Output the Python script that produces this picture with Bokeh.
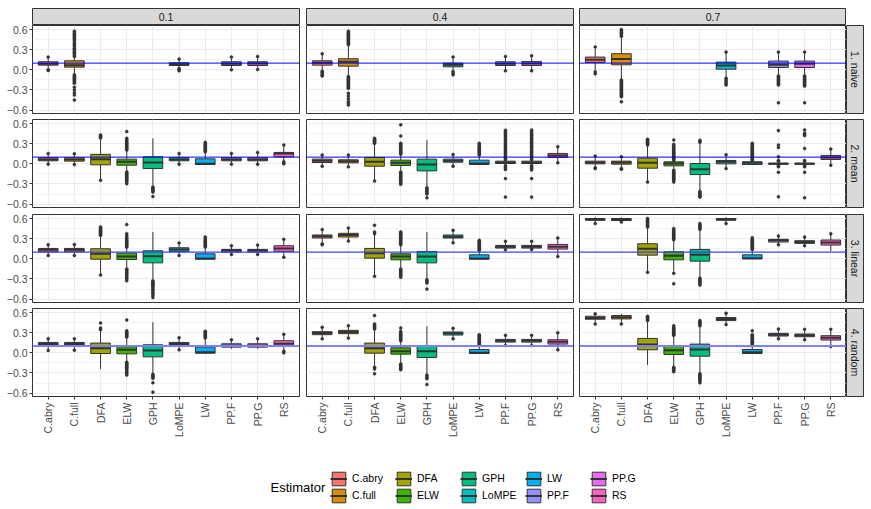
import math
from bokeh.plotting import figure
from bokeh.models import (ColumnDataSource, Range1d, FixedTicker, LinearAxis, Span,
                          Label, Legend, LegendItem, Spacer)
from bokeh.layouts import row, column
from bokeh.transform import dodge
from bokeh.embed import file_html
from bokeh.resources import INLINE

# ---------------- data ----------------
ESTIMATORS = ["C.abry", "C.full", "DFA", "ELW", "GPH", "LoMPE", "LW", "PP.F", "PP.G", "RS"]
COLORS = ["#F8766D", "#D89000", "#A3A500", "#39B600", "#00BF7D",
          "#00BFC4", "#00B0F6", "#9590FF", "#E76BF3", "#FF62BC"]
METHODS = ["1. naive", "2. mean", "3. linear", "4. random"]
PROPORTIONS = ["0.1", "0.4", "0.7"]
TRUE_VALUE = 0.1
Y_TICKS = [-0.6, -0.3, 0.0, 0.3, 0.6]
Y_MINOR = [-0.45, -0.15, 0.15, 0.45]
Y_LABELS = ["\u22120.6", "\u22120.3", "0.0", "0.3", "0.6"]

N = None
# each stat list: one row per proportion (0.1, 0.4, 0.7), one entry per estimator

# ---- 1. naive ----
naive_lo = [
    [0.02, -0.06, N, N, N, 0.03, N, 0.03, 0.03, N],
    [0.0, -0.09, N, N, N, 0.0, N, 0.0, 0.0, N],
    [0.0, -0.14, N, N, N, -0.11, N, -0.075, -0.075, N],
]
naive_q1 = [
    [0.07, 0.04, N, N, N, 0.065, N, 0.065, 0.065, N],
    [0.07, 0.055, N, N, N, 0.045, N, 0.065, 0.065, N],
    [0.11, 0.075, N, N, N, 0.01, N, 0.035, 0.035, N],
]
naive_med = [
    [0.09, 0.07, N, N, N, 0.08, N, 0.09, 0.095, N],
    [0.105, 0.12, N, N, N, 0.075, N, 0.09, 0.095, N],
    [0.15, 0.16, N, N, N, 0.065, N, 0.075, 0.09, N],
]
naive_q3 = [
    [0.12, 0.135, N, N, N, 0.105, N, 0.12, 0.12, N],
    [0.135, 0.165, N, N, N, 0.1, N, 0.12, 0.125, N],
    [0.19, 0.24, N, N, N, 0.115, N, 0.13, 0.13, N],
]
naive_hi = [
    [0.17, 0.19, N, N, N, 0.14, N, 0.17, 0.18, N],
    [0.23, 0.36, N, N, N, 0.16, N, 0.18, 0.19, N],
    [0.31, 0.48, N, N, N, 0.25, N, 0.25, 0.25, N],
]
naive_out = [
    [[0.19, 0.0, -0.01],
     [0.2, 0.22, 0.24, 0.26, 0.28, 0.3, 0.32, 0.35, 0.38, 0.4, 0.43, 0.45, 0.47, 0.49, 0.51,
      0.53, 0.55, 0.575, -0.075, -0.09, -0.105, -0.12, -0.135, -0.15, -0.165, -0.18, -0.2,
      -0.26, -0.3, -0.34, -0.375, -0.45],
     [], [], [], [0.16, 0.02, 0.0, -0.015], [], [0.19, 0.0], [0.2, 0.005], []],
    [[0.24, -0.02, -0.04, -0.06, -0.08, -0.09],
     [0.375, 0.39, 0.405, 0.42, 0.435, 0.45, 0.465, 0.48, 0.495, 0.51, 0.525, 0.54, 0.555,
      0.575, -0.1, -0.115, -0.13, -0.145, -0.16, -0.175, -0.19, -0.205, -0.22, -0.235, -0.25,
      -0.265, -0.275, -0.35, -0.39, -0.43, -0.47, -0.5, -0.525],
     [], [], [], [0.19, -0.025, -0.05, -0.075], [], [0.2, -0.015], [0.21, -0.015], []],
    [[0.34, -0.03, -0.06],
     [0.5, 0.52, 0.54, 0.56, 0.58, 0.6, -0.15, -0.165, -0.18, -0.195, -0.21, -0.225, -0.24,
      -0.255, -0.27, -0.285, -0.3, -0.315, -0.33, -0.345, -0.36, -0.375, -0.39, -0.4, -0.475],
     [], [], [], [0.265, -0.125, -0.15, -0.175, -0.2, -0.225], [],
     [0.265, -0.09, -0.105, -0.12, -0.135, -0.15, -0.165, -0.18, -0.195, -0.21, -0.225, -0.49],
     [0.265, -0.09, -0.105, -0.12, -0.135, -0.15, -0.165, -0.18, -0.195, -0.21, -0.225,
      -0.24, -0.49],
     []],
]

# ---- 2. mean ----
mean_lo = [
    [0.01, 0.01, -0.23, -0.1, -0.32, 0.01, -0.01, 0.01, 0.01, 0.04],
    [-0.02, -0.025, -0.24, -0.1, -0.34, -0.02, -0.01, -0.015, -0.015, 0.02],
    [-0.05, -0.055, -0.255, -0.08, -0.39, -0.05, -0.015, -0.02, -0.02, 0.0],
]
mean_q1 = [
    [0.045, 0.04, -0.015, -0.02, -0.07, 0.045, -0.01, 0.045, 0.045, 0.105],
    [0.02, 0.015, -0.035, -0.025, -0.105, 0.025, -0.01, 0.005, 0.005, 0.095],
    [0.0, -0.005, -0.065, -0.03, -0.16, 0.0, -0.01, -0.005, -0.005, 0.065],
]
mean_med = [
    [0.065, 0.065, 0.07, 0.03, 0.02, 0.065, 0.0, 0.065, 0.065, 0.155],
    [0.045, 0.04, 0.03, 0.015, -0.01, 0.045, 0.005, 0.02, 0.02, 0.125],
    [0.02, 0.02, 0.015, 0.005, -0.08, 0.03, 0.015, 0.0, 0.0, 0.095],
]
mean_q3 = [
    [0.09, 0.09, 0.14, 0.07, 0.105, 0.09, 0.075, 0.09, 0.09, 0.17],
    [0.07, 0.06, 0.095, 0.055, 0.07, 0.07, 0.055, 0.04, 0.04, 0.155],
    [0.04, 0.04, 0.085, 0.03, 0.005, 0.05, 0.03, 0.01, 0.01, 0.125],
]
mean_hi = [
    [0.13, 0.13, 0.36, 0.19, 0.38, 0.13, 0.17, 0.13, 0.145, 0.26],
    [0.11, 0.11, 0.3, 0.13, 0.355, 0.12, 0.12, 0.05, 0.05, 0.24],
    [0.09, 0.09, 0.27, 0.045, 0.3, 0.11, 0.045, 0.03, 0.03, 0.2],
]
mean_out = [
    [[0.155, -0.005], [0.15, -0.01], [0.385, 0.4, 0.415, 0.43, -0.245],
     [0.205, 0.22, 0.235, 0.25, 0.265, 0.28, 0.295, 0.31, 0.325, 0.34, 0.36, 0.38, 0.48,
      -0.12, -0.135, -0.15, -0.165, -0.18, -0.195, -0.21, -0.225, -0.24, -0.255, -0.27, -0.295],
     [-0.345, -0.36, -0.375, -0.39, -0.405, -0.42, -0.485],
     [0.155, -0.005],
     [0.18, 0.195, 0.21, 0.225, 0.24, 0.255, 0.27, 0.285, 0.3, 0.32],
     [0.155, -0.005], [0.17, -0.005], [0.28, 0.03, 0.015, 0.0]],
    [[0.13, -0.035], [0.13, -0.045], [0.305, 0.32, 0.335, 0.35, 0.365, 0.38, -0.255],
     [0.145, 0.16, 0.175, 0.19, 0.205, 0.22, 0.235, 0.25, 0.265, 0.28, 0.295, 0.305, 0.415,
      0.58, -0.12, -0.135, -0.15, -0.165, -0.18, -0.195, -0.21, -0.225, -0.24, -0.255, -0.27,
      -0.285, -0.305],
     [-0.355, -0.37, -0.385, -0.4, -0.415, -0.43, -0.45, -0.505],
     [0.14, -0.035],
     [0.13, 0.145, 0.16, 0.175, 0.19, 0.205, 0.22, 0.235, 0.25, 0.265, 0.28, 0.305],
     [0.06, 0.08, 0.1, 0.12, 0.14, 0.16, 0.18, 0.2, 0.22, 0.24, 0.26, 0.28, 0.3, 0.32, 0.34,
      0.36, 0.38, 0.4, 0.42, 0.44, 0.46, 0.48, 0.5, -0.025, -0.045, -0.065, -0.085, -0.22,
      -0.495],
     [0.06, 0.08, 0.1, 0.12, 0.14, 0.16, 0.18, 0.2, 0.22, 0.24, 0.26, 0.28, 0.3, 0.32, 0.34,
      0.36, 0.38, 0.4, 0.42, 0.44, 0.46, 0.48, 0.505, -0.025, -0.045, -0.065, -0.09, -0.22,
      -0.495],
     [0.255, 0.015]],
    [[0.115, -0.06, -0.07], [0.105, -0.07, -0.08],
     [0.28, 0.295, 0.31, 0.325, 0.34, 0.355, 0.365, -0.27],
     [0.055, 0.07, 0.085, 0.1, 0.115, 0.13, 0.145, 0.16, 0.175, 0.19, 0.205, 0.22, 0.235,
      0.25, 0.265, 0.29, 0.355, -0.095, -0.11, -0.125, -0.14, -0.155, -0.17, -0.185, -0.2,
      -0.215, -0.23, -0.245, -0.27],
     [0.32, 0.335, 0.35, -0.41, -0.425, -0.44, -0.455, -0.47, -0.485, -0.495],
     [0.135, -0.07],
     [0.055, 0.07, 0.085, 0.1, 0.115, 0.13, 0.145, 0.16, 0.175, 0.19, 0.205, 0.22, 0.235,
      0.25, 0.265, 0.28, 0.305],
     [0.495, 0.28, 0.245, 0.105, 0.05, 0.04, -0.03, -0.045, -0.125, -0.49],
     [0.505, 0.455, 0.435, 0.42, 0.23, 0.05, 0.04, -0.03, -0.045, -0.125, -0.505],
     [0.22, -0.02]],
]

# ---- 3. linear ----
linear_lo = [
    [0.07, 0.07, -0.22, -0.13, -0.3, 0.07, -0.005, 0.07, 0.07, 0.04],
    [0.25, 0.28, -0.24, -0.13, -0.3, 0.26, -0.005, 0.14, 0.145, 0.06],
    [0.54, 0.555, -0.19, -0.19, -0.28, 0.54, -0.005, 0.22, 0.205, 0.115],
]
linear_q1 = [
    [0.105, 0.105, -0.005, -0.01, -0.06, 0.11, -0.005, 0.1, 0.1, 0.11],
    [0.31, 0.325, 0.01, -0.015, -0.06, 0.31, -0.005, 0.16, 0.16, 0.145],
    [0.575, 0.57, 0.055, -0.015, -0.035, 0.575, 0.0, 0.25, 0.23, 0.205],
]
linear_med = [
    [0.135, 0.135, 0.075, 0.035, 0.04, 0.14, 0.005, 0.125, 0.125, 0.155],
    [0.335, 0.355, 0.085, 0.035, 0.035, 0.33, 0.005, 0.18, 0.18, 0.18],
    [0.585, 0.585, 0.15, 0.045, 0.06, 0.59, 0.01, 0.275, 0.25, 0.245],
]
linear_q3 = [
    [0.155, 0.155, 0.15, 0.085, 0.12, 0.165, 0.075, 0.14, 0.14, 0.195],
    [0.355, 0.38, 0.155, 0.075, 0.11, 0.355, 0.06, 0.2, 0.2, 0.215],
    [0.6, 0.6, 0.225, 0.105, 0.14, 0.6, 0.06, 0.29, 0.27, 0.28],
]
linear_hi = [
    [0.19, 0.2, 0.34, 0.16, 0.4, 0.21, 0.16, 0.18, 0.19, 0.27],
    [0.42, 0.44, 0.36, 0.2, 0.4, 0.41, 0.11, 0.24, 0.24, 0.29],
    [0.62, 0.615, 0.46, 0.27, 0.43, 0.62, 0.13, 0.33, 0.31, 0.36],
]
linear_out = [
    [[0.21, 0.05], [0.215, 0.05],
     [0.35, 0.365, 0.38, 0.395, 0.41, 0.425, 0.44, 0.46, 0.475, -0.24],
     [0.175, 0.19, 0.205, 0.22, 0.235, 0.25, 0.265, 0.28, 0.3, 0.32, 0.345, 0.375, 0.51,
      -0.15, -0.165, -0.18, -0.2, -0.22, -0.24, -0.26, -0.28, -0.3, -0.325],
     [-0.325, -0.34, -0.355, -0.37, -0.385, -0.4, -0.42, -0.44, -0.46, -0.48, -0.5, -0.52,
      -0.545, -0.575],
     [0.235, 0.05],
     [0.175, 0.19, 0.205, 0.22, 0.235, 0.25, 0.265, 0.28, 0.3, 0.325],
     [0.195, 0.065], [0.205, 0.065], [0.29, 0.025]],
    [[0.435, 0.225, 0.21], [0.46, 0.265], [0.375, 0.4, 0.5, -0.26],
     [0.21, 0.225, 0.24, 0.255, 0.27, 0.285, 0.3, 0.315, 0.33, 0.345, 0.36, 0.375, 0.39, 0.4,
      -0.15, -0.165, -0.18, -0.195, -0.21, -0.225, -0.24, -0.255, -0.275],
     [-0.31, -0.325, -0.34, -0.36, -0.45],
     [0.425, 0.24],
     [0.125, 0.14, 0.155, 0.17, 0.185, 0.2, 0.215, 0.23, 0.245, 0.26, 0.275],
     [0.26, 0.135], [0.26, 0.14], [0.31, 0.035]],
    [[0.525], [0.55],
     [0.475, 0.49, 0.505, 0.52, 0.535, 0.55, 0.565, 0.58, 0.6, -0.2],
     [0.285, 0.3, 0.315, 0.33, 0.345, 0.36, 0.375, 0.39, 0.41, 0.43, 0.45, -0.215, -0.37],
     [0.44, 0.455, 0.47, 0.49, 0.505, 0.525, -0.29, -0.305, -0.32, -0.335, -0.35, -0.37, -0.39],
     [0.525],
     [0.14, 0.155, 0.17, 0.185, 0.2, 0.215, 0.23, 0.245, 0.26, 0.275, 0.29, 0.315],
     [0.34, 0.21], [0.325, 0.195], [0.375]],
]

# ---- 4. random ----
random_lo = [
    [0.05, 0.055, -0.24, -0.12, -0.3, 0.06, -0.005, 0.06, 0.06, 0.04],
    [0.23, 0.24, -0.2, -0.15, -0.31, 0.23, -0.01, 0.12, 0.12, 0.06],
    [0.45, 0.45, -0.18, -0.2, -0.3, 0.44, -0.01, 0.22, 0.21, 0.11],
]
random_q1 = [
    [0.1, 0.1, -0.01, -0.015, -0.06, 0.1, -0.005, 0.085, 0.085, 0.095],
    [0.27, 0.285, -0.005, -0.02, -0.07, 0.265, -0.01, 0.16, 0.16, 0.13],
    [0.5, 0.505, 0.045, -0.025, -0.05, 0.48, -0.01, 0.25, 0.24, 0.19],
]
random_med = [
    [0.13, 0.13, 0.07, 0.045, 0.035, 0.13, 0.01, 0.11, 0.11, 0.135],
    [0.295, 0.31, 0.07, 0.025, 0.025, 0.29, 0.0, 0.18, 0.18, 0.165],
    [0.52, 0.53, 0.125, 0.04, 0.05, 0.505, 0.01, 0.27, 0.26, 0.225],
]
random_q3 = [
    [0.155, 0.155, 0.145, 0.09, 0.12, 0.155, 0.085, 0.135, 0.135, 0.18],
    [0.315, 0.335, 0.145, 0.075, 0.105, 0.31, 0.05, 0.2, 0.2, 0.195],
    [0.545, 0.555, 0.215, 0.095, 0.13, 0.525, 0.05, 0.29, 0.28, 0.255],
]
random_hi = [
    [0.2, 0.2, 0.33, 0.22, 0.455, 0.21, 0.2, 0.18, 0.19, 0.26],
    [0.36, 0.39, 0.34, 0.17, 0.395, 0.35, 0.1, 0.245, 0.245, 0.28],
    [0.575, 0.58, 0.46, 0.25, 0.4, 0.57, 0.1, 0.34, 0.33, 0.33],
]
random_out = [
    [[0.21, 0.035], [0.21, 0.04], [0.345, 0.37, 0.445],
     [0.235, 0.25, 0.265, 0.28, 0.295, 0.31, 0.33, 0.49, -0.14, -0.155, -0.17, -0.185, -0.2,
      -0.215, -0.23, -0.25, -0.27, -0.29, -0.31, -0.33],
     [-0.32, -0.335, -0.35, -0.365, -0.38, -0.445, -0.585],
     [0.225, 0.045],
     [0.22, 0.235, 0.25, 0.265, 0.28, 0.295, 0.31, 0.32],
     [0.195], [0.21], [0.275, 0.025, 0.0]],
    [[0.38, 0.21], [0.405, 0.22],
     [0.355, 0.37, 0.385, 0.4, 0.415, 0.43, 0.555, -0.215, -0.24, -0.31],
     [0.18, 0.195, 0.21, 0.225, 0.24, 0.255, 0.27, 0.285, 0.3, 0.32, 0.37, -0.165, -0.18,
      -0.195, -0.21, -0.225, -0.24, -0.25],
     [-0.33, -0.35, -0.37, -0.385, -0.47],
     [0.365, 0.21],
     [0.11, 0.125, 0.14, 0.155, 0.17, 0.185, 0.2, 0.215, 0.23, 0.245, 0.26, 0.27],
     [0.26, 0.11], [0.26, 0.11], [0.3, 0.045]],
    [[0.58, 0.43], [0.43], [0.48, 0.495, 0.51, 0.525, 0.545],
     [0.26, 0.275, 0.29, 0.305, 0.32, 0.335, 0.35, 0.365, 0.38, 0.405, -0.215, -0.23, -0.245,
      -0.26, -0.28],
     [0.405, 0.42, 0.435, 0.45, 0.465, 0.48, -0.31, -0.325, -0.34, -0.355, -0.37, -0.385,
      -0.4, -0.42, -0.445],
     [0.59, 0.42],
     [0.11, 0.125, 0.14, 0.155, 0.17, 0.185, 0.2, 0.215, 0.23, 0.245, 0.26, 0.27, 0.33],
     [0.355, 0.21], [0.35, 0.195], [0.35, 0.095]],
]

STATS = [
    (naive_lo, naive_q1, naive_med, naive_q3, naive_hi, naive_out),
    (mean_lo, mean_q1, mean_med, mean_q3, mean_hi, mean_out),
    (linear_lo, linear_q1, linear_med, linear_q3, linear_hi, linear_out),
    (random_lo, random_q1, random_med, random_q3, random_hi, random_out),
]

# ---------------- layout / style ----------------
FONT = "Liberation Sans"
FRAME_W = 267
FRAME_H = 88
STRIP = 17
COL_BORDERS = [(32, 3), (4, 3), (3, 0)]
ROW_BORDERS = [(0, 3), (3, 3), (4, 3), (3, 49)]
RIGHT_STRIP_W = 25
TOP_STRIP_H = 25
EDGE = "#333333"
GRID = "#EBEBEB"
HLINE_STYLE = [("#0000FF", 1.0), ("#0000E6", 1.0), ("#3F3FFF", 1.2), ("#7F7FFF", 2.0)]
BOX_W = 0.75
X_POS = [i + 1 for i in range(len(ESTIMATORS))]


def base_fig(w, h, l, r, t, b, xr, yr):
    f = figure(width=w, height=h, x_range=xr, y_range=yr, output_backend="svg",
               toolbar_location=None, x_axis_location=None, y_axis_location=None,
               min_border_left=l, min_border_right=r, min_border_top=t, min_border_bottom=b)
    f.title = None
    f.border_fill_color = "white"
    f.background_fill_color = "white"
    return f


def strip_fig(text, w, h, l, r, t, b, angle=0.0):
    s = base_fig(w, h, l, r, t, b, Range1d(0, 1), Range1d(0, 1))
    s.grid.visible = False
    s.background_fill_color = "#D9D9D9"
    s.outline_line_color = EDGE
    s.outline_line_width = 1
    s.add_layout(Label(x=0.5, y=0.5, text=text, text_align="center", text_baseline="middle",
                       angle=angle, text_font_size="10.5px", text_color="#1A1A1A",
                       text_font=FONT))
    return s


def box_source(m, c):
    lo_a, q1_a, med_a, q3_a, hi_a, out_a = STATS[m]
    box = dict(x=[], lo=[], q1=[], med=[], q3=[], hi=[], color=[])
    outs = dict(x=[], y=[])
    for i, name in enumerate(ESTIMATORS):
        if med_a[c][i] is None:
            continue
        box["x"].append(X_POS[i])
        box["lo"].append(lo_a[c][i])
        box["q1"].append(q1_a[c][i])
        box["med"].append(med_a[c][i])
        box["q3"].append(q3_a[c][i])
        box["hi"].append(hi_a[c][i])
        box["color"].append(COLORS[i])
        for v in out_a[c][i]:
            outs["x"].append(X_POS[i])
            outs["y"].append(v)
    return ColumnDataSource(box), ColumnDataSource(outs)


def draw_boxes(p, src, outsrc):
    w1 = p.segment(x0="x", y0="lo", x1="x", y1="q1", source=src, line_color=EDGE, line_width=1)
    w2 = p.segment(x0="x", y0="q3", x1="x", y1="hi", source=src, line_color=EDGE, line_width=1)
    bx = p.vbar(x="x", width=BOX_W, bottom="q1", top="q3", source=src,
                fill_color="color", line_color=EDGE, line_width=1)
    md = p.segment(x0=dodge("x", -BOX_W / 2, range=p.x_range), y0="med",
                   x1=dodge("x", BOX_W / 2, range=p.x_range), y1="med",
                   source=src, line_color=EDGE, line_width=2)
    pts = p.scatter(x="x", y="y", source=outsrc, size=3,
                    fill_color=EDGE, line_color=EDGE, line_width=0.5)
    return [w1, w2, bx, md, pts]


def panel(m, c):
    l, r = COL_BORDERS[c]
    t, b = ROW_BORDERS[m]
    p = base_fig(l + FRAME_W + r, t + FRAME_H + b, l, r, t, b,
                 Range1d(0.4, 10.6), Range1d(-0.65, 0.66))
    p.outline_line_color = EDGE
    p.outline_line_width = 1
    p.xgrid.ticker = FixedTicker(ticks=X_POS)
    p.ygrid.ticker = FixedTicker(ticks=Y_TICKS, minor_ticks=Y_MINOR)
    p.grid.grid_line_color = GRID
    p.grid.grid_line_width = 1
    p.ygrid.minor_grid_line_color = GRID
    p.ygrid.minor_grid_line_width = 0.6

    src, outsrc = box_source(m, c)
    draw_boxes(p, src, outsrc)

    col, wid = HLINE_STYLE[m]
    p.add_layout(Span(location=TRUE_VALUE, dimension="width", line_color=col, line_width=wid))

    if c == 0:
        overrides = {}
        for v, s in zip(Y_TICKS, Y_LABELS):
            overrides[v] = s
            overrides[str(v)] = s
        ya = LinearAxis(ticker=FixedTicker(ticks=Y_TICKS), major_label_overrides=overrides,
                        axis_line_color=None, major_tick_line_color=EDGE,
                        major_tick_out=3, major_tick_in=0, minor_tick_out=0, minor_tick_in=0,
                        major_label_standoff=2, major_label_text_color="#4D4D4D",
                        major_label_text_font_size="10.5px", major_label_text_font=FONT)
        p.add_layout(ya, "left")
    if m == len(METHODS) - 1:
        xo = {}
        for v, s in zip(X_POS, ESTIMATORS):
            xo[v] = s
            xo[str(v)] = s
        xa = LinearAxis(ticker=FixedTicker(ticks=X_POS), major_label_overrides=xo,
                        axis_line_color=None, major_tick_line_color=EDGE,
                        major_tick_out=3, major_tick_in=0, minor_tick_out=0, minor_tick_in=0,
                        major_label_standoff=3, major_label_orientation=math.pi / 2,
                        major_label_text_color="#4D4D4D",
                        major_label_text_font_size="10.5px", major_label_text_font=FONT)
        p.add_layout(xa, "below")
    return p


rows = []
top = []
for c, prop in enumerate(PROPORTIONS):
    l, r = COL_BORDERS[c]
    top.append(strip_fig(prop, l + FRAME_W + r, TOP_STRIP_H, l, r, TOP_STRIP_H - STRIP, 0))
top.append(Spacer(width=RIGHT_STRIP_W, height=TOP_STRIP_H))
rows.append(row(*top, spacing=0))

for m, meth in enumerate(METHODS):
    t, b = ROW_BORDERS[m]
    cells = [panel(m, c) for c in range(len(PROPORTIONS))]
    cells.append(strip_fig(meth, RIGHT_STRIP_W, t + FRAME_H + b, 0, RIGHT_STRIP_W - STRIP, t, b,
                           angle=-math.pi / 2))
    rows.append(row(*cells, spacing=0))

# legend: hidden copies of the boxplot glyphs (random, 0.1 panel) supply the keys
lf = base_fig(871, 64, 0, 0, 0, 0, Range1d(0.4, 10.6), Range1d(-0.65, 0.66))
lf.grid.visible = False
lf.outline_line_color = None
lsrc, lout = box_source(3, 0)
lrs = draw_boxes(lf, lsrc, lout)
for r_ in lrs:
    r_.visible = False
items = []
for i, name in enumerate(ESTIMATORS):
    items.append(LegendItem(label=name, renderers=[lrs[2], lrs[3]], index=i))
legend = Legend(items=items, location=(330, 5.5), orientation="vertical", nrows=2,
                glyph_width=17, glyph_height=17, label_standoff=5, label_width=43,
                label_height=17, spacing=0, padding=0, margin=0,
                border_line_color=None, background_fill_alpha=0, click_policy="none",
                label_text_font_size="10.5px", label_text_font=FONT, label_text_color="black")
lf.add_layout(legend)
lf.add_layout(Label(x=270, y=22, x_units="screen", y_units="screen", text="Estimator",
                    text_font_size="13px", text_font=FONT, text_baseline="middle",
                    text_color="black"))
rows.append(lf)

layout = column(*rows, spacing=0)

with open("out.html", "w") as fh:
    fh.write(file_html(layout, INLINE))
